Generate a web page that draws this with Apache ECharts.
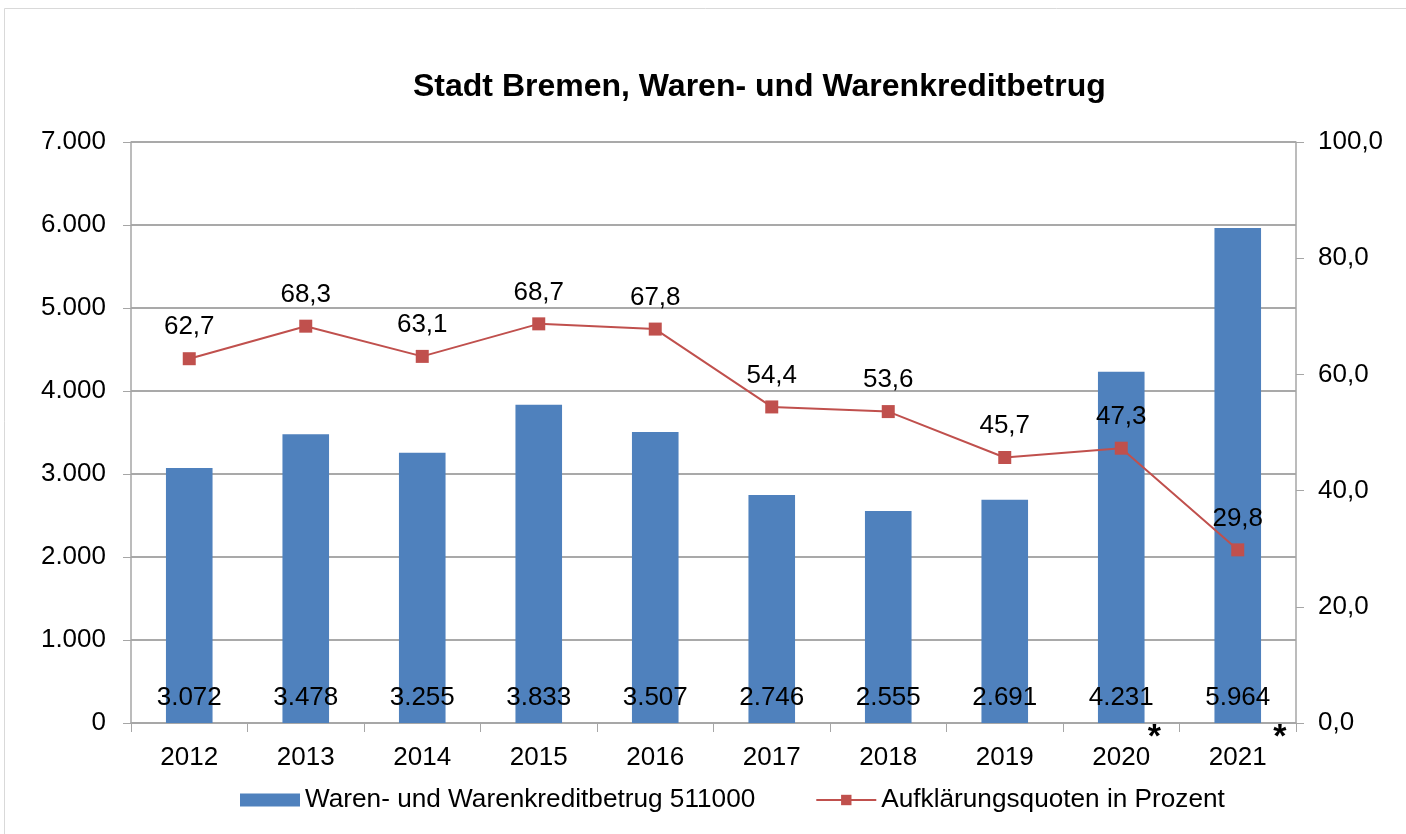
<!DOCTYPE html>
<html><head><meta charset="utf-8">
<script src="https://cdn.jsdelivr.net/npm/echarts@6/dist/echarts.min.js"></script>
<style>html,body{margin:0;padding:0;background:#fff}#c{width:1406px;height:834px}</style>
</head><body><div id="c"></div>
<script>
const years = ['2012','2013','2014','2015','2016','2017','2018','2019','2020','2021'];
const cases = [3072,3478,3255,3833,3507,2746,2555,2691,4231,5964];
const quotes = [62.7,68.3,63.1,68.7,67.8,54.4,53.6,45.7,47.3,29.8];
const starredYears = ['2020','2021'];
const titleText = 'Stadt Bremen, Waren- und Warenkreditbetrug';
const barName = 'Waren- und Warenkreditbetrug 511000';
const lineName = 'Aufklärungsquoten in Prozent';

const FONT = '"Liberation Sans", Arial, sans-serif';
const FS = 26;
const fmtThousand = v => String(Math.round(v)).replace(/\B(?=(\d{3})+(?!\d))/g, '.');
const fmtDec = v => v.toFixed(1).replace('.', ',');

const chart = echarts.init(document.getElementById('c'));
const axisCol = '#a6a6a6';
chart.setOption({
  animation: false,
  textStyle: {fontFamily: FONT, color: '#000'},
  title: {text: titleText, top: 71, left: 413, padding: 0, textStyle: {fontFamily: FONT, fontSize: 32, fontWeight: 'bold', color: '#000'}},
  grid: {left: 131, right: 110, top: 142, bottom: 111, containLabel: false},
  legend: {
    top: 787, left: 240, itemWidth: 60, itemHeight: 13, itemGap: 60, padding: 0,
    textStyle: {fontFamily: FONT, fontSize: 26.2, color: '#000'},
    data: [{name: barName, icon: 'rect'}, {name: lineName}]
  },
  xAxis: {
    type: 'category', data: years,
    axisLine: {lineStyle: {color: axisCol, width: 1.5}},
    axisTick: {show: true, length: 9, lineStyle: {color: axisCol}},
    axisLabel: {fontFamily: FONT, fontSize: FS, color: '#000', margin: 22}
  },
  yAxis: [{
    type: 'value', min: 0, max: 7000, interval: 1000,
    axisLine: {show: true, lineStyle: {color: axisCol, width: 1.5}},
    axisTick: {show: true, length: 8, lineStyle: {color: axisCol}},
    splitLine: {lineStyle: {color: '#8c8c8c', width: 1.5}},
    axisLabel: {fontFamily: FONT, fontSize: FS, color: '#000', margin: 25, formatter: fmtThousand}
  }, {
    type: 'value', min: 0, max: 100, interval: 20,
    axisLine: {show: true, lineStyle: {color: axisCol, width: 1.5}},
    axisTick: {show: true, length: 8, lineStyle: {color: axisCol}},
    splitLine: {show: false},
    axisLabel: {fontFamily: FONT, fontSize: FS, color: '#000', margin: 22, formatter: fmtDec}
  }],
  series: [{
    name: barName, type: 'bar', data: cases, barWidth: '40%',
    itemStyle: {color: '#4F81BD'},
    label: {show: true, position: 'insideBottom', distance: 12, fontFamily: FONT, fontSize: FS, color: '#000', formatter: p => fmtThousand(p.value)}
  }, {
    name: lineName, type: 'line', yAxisIndex: 1, data: quotes,
    lineStyle: {color: '#C0504D', width: 2},
    itemStyle: {color: '#C0504D'},
    symbol: 'rect', symbolSize: 13,
    label: {show: true, position: 'top', distance: 12, fontFamily: FONT, fontSize: FS, color: '#000', formatter: p => fmtDec(p.value)}
  }]
});

const graphics = [{
  type: 'rect', shape: {x: 4.5, y: 8.5, width: 1420, height: 840}, style: {fill: null, stroke: '#d9d9d9', lineWidth: 1}, silent: true
}];
starredYears.forEach(y => {
  const idx = years.indexOf(y);
  const px = chart.convertToPixel({xAxisIndex: 0}, idx);
  const base = chart.convertToPixel({yAxisIndex: 0}, 0);
  graphics.push({
    type: 'text', x: px + 33 + (idx === years.length - 1 ? 9 : 0), y: base + 15,
    style: {text: '*', font: 'bold 34px ' + FONT, fill: '#000', align: 'center', verticalAlign: 'middle'}
  });
});
chart.setOption({graphic: graphics});
</script></body></html>
